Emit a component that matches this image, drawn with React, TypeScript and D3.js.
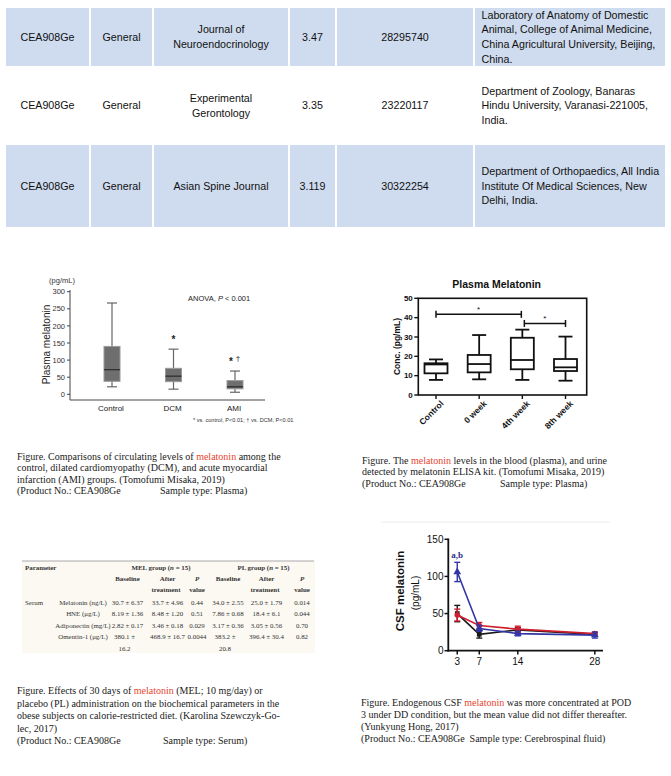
import React, { useEffect } from 'react';
import * as d3 from 'd3';

// ---------- DATA ----------
const productNos = ['CEA908Ge', 'CEA908Ge', 'CEA908Ge'];
const applications = ['General', 'General', 'General'];
const journals = [['Journal of', 'Neuroendocrinology'], ['Experimental', 'Gerontology'], ['Asian Spine Journal']];
const impactFactors = ['3.47', '3.35', '3.119'];
const pmids = ['28295740', '23220117', '30322254'];
const affiliations = [
  ['Laboratory of Anatomy of Domestic', 'Animal, College of Animal Medicine,', 'China Agricultural University, Beijing,', 'China.'],
  ['Department of Zoology, Banaras', 'Hindu University, Varanasi-221005,', 'India.'],
  ['Department of Orthopaedics, All India', 'Institute Of Medical Sciences, New', 'Delhi, India.'],
];

const groupsA = ['Control', 'DCM', 'AMI'];
const minA = [22, 15, 6];
const q1A = [38, 37, 16];
const medA = [72, 53, 22];
const q3A = [140, 76, 40];
const maxA = [267, 132, 68];
const ticksA = [0, 50, 100, 150, 200, 250, 300];

const groupsB = ['Control', '0 week', '4th week', '8th week'];
const minB = [7.8, 8.1, 7.8, 7.4];
const q1B = [11.2, 11.7, 13.3, 12.4];
const medB = [15.8, 16, 18.1, 14.3];
const q3B = [16.4, 20.7, 29.6, 18.6];
const maxB = [18.4, 31, 33.8, 30.2];
const ticksB = [0, 10, 20, 30, 40, 50];
const sigFrom = ['Control', '4th week'];
const sigTo = ['4th week', '8th week'];
const sigLevel = [41.7, 37];

const csfDays = [3, 7, 14, 28];
const csfBlack = [50, 22, 28, 22];
const csfBlackErr = [11, 5, 3, 2];
const csfRed = [48, 34, 29, 23];
const csfRedErr = [8, 4, 4, 2];
const csfBlue = [106, 30, 23, 21];
const csfBlueErr = [13, 4, 3, 4];
const ticksCy = [0, 50, 100, 150];

const paramNames = ['Melatonin (ng/L)', 'HNE (\u03bcg/L)', 'Adiponectin (mg/L)', 'Omentin-1 (\u03bcg/L)'];
const melBaseline = ['30.7 \u00b1 6.37', '8.19 \u00b1 1.36', '2.82 \u00b1 0.17', '380.1 \u00b1 16.2'];
const melAfter = ['33.7 \u00b1 4.96', '8.48 \u00b1 1.20', '3.46 \u00b1 0.18', '468.9 \u00b1 16.7'];
const melP = ['0.44', '0.51', '0.029', '0.0044'];
const plBaseline = ['34.0 \u00b1 2.55', '7.86 \u00b1 0.68', '3.17 \u00b1 0.36', '383.2 \u00b1 20.8'];
const plAfter = ['25.0 \u00b1 1.79', '18.4 \u00b1 6.1', '3.05 \u00b1 0.56', '396.4 \u00b1 30.4'];
const plP = ['0.014', '0.044', '0.70', '0.82'];

// ---------- STYLE ----------
const SANS = 'Liberation Sans, Arial, sans-serif';
const SERIF = 'Liberation Serif, Times New Roman, serif';
const RED = '#e8452f';

type TP = {
  x: number; y: number; children?: React.ReactNode; size?: number; anchor?: string;
  weight?: string | number; family?: string; fill?: string; rotate?: number; italic?: boolean;
};
function T({ x, y, children, size = 10, anchor = 'start', weight = 'normal', family = SANS, fill = '#111', rotate, italic }: TP) {
  const tr = rotate ? `rotate(${rotate},${x},${y})` : undefined;
  return (
    <text x={x} y={y} dy="0.35em" fontSize={size} textAnchor={anchor as any} fontWeight={weight as any}
      fontFamily={family} fill={fill} transform={tr} fontStyle={italic ? 'italic' : undefined}>
      {children}
    </text>
  );
}

function TopTable() {
  const edges = [5, 90, 153, 289, 336, 474, 666];
  const bands = [[8, 66, true], [66, 145, false], [145, 227, true]] as [number, number, boolean][];
  const lh = 14.7;
  const fs = 10.7;
  return (
    <g>
      {bands.map(([y0, y1, f], r) => {
        const cy = (y0 + y1) / 2;
        const cells = [[productNos[r]], [applications[r]], journals[r], [impactFactors[r]], [pmids[r]]];
        return (
          <g key={r}>
            {f && edges.slice(0, -1).map((e, i) => (
              <rect key={i} x={e + 1} y={y0} width={edges[i + 1] - e - 2} height={y1 - y0} fill="#cfdcef" />
            ))}
            {cells.map((lines, c) => lines.map((ln, k) => (
              <T key={c + '-' + k} x={(edges[c] + edges[c + 1]) / 2} y={cy + (k - (lines.length - 1) / 2) * lh}
                size={fs} anchor="middle">{ln}</T>
            )))}
            {affiliations[r].map((ln, k) => (
              <T key={'a' + k} x={481.5} y={cy + (k - (affiliations[r].length - 1) / 2) * lh} size={fs}>{ln}</T>
            ))}
          </g>
        );
      })}
    </g>
  );
}

function BoxA() {
  const y = d3.scaleLinear().domain([0, 300]).range([394.3, 291.7]);
  const x = d3.scalePoint<string>().domain(groupsA).range([112, 235]);
  const w = 16;
  return (
    <g>
      <line x1={70} x2={70} y1={290} y2={400} stroke="#444" />
      <line x1={70} x2={265} y1={400} y2={400} stroke="#444" />
      {ticksA.map(t => (
        <g key={t}>
          <line x1={67} x2={70} y1={y(t)} y2={y(t)} stroke="#444" />
          <T x={65} y={y(t)} size={7.5} anchor="end" fill="#333">{t}</T>
        </g>
      ))}
      {groupsA.map((g, i) => {
        const cx = x(g)!;
        return (
          <g key={g}>
            <line x1={cx} x2={cx} y1={y(maxA[i])} y2={y(q3A[i])} stroke="#666" strokeWidth={1.2} />
            <line x1={cx} x2={cx} y1={y(q1A[i])} y2={y(minA[i])} stroke="#666" strokeWidth={1.2} />
            <line x1={cx - 5} x2={cx + 5} y1={y(maxA[i])} y2={y(maxA[i])} stroke="#666" strokeWidth={1.2} />
            <line x1={cx - 5} x2={cx + 5} y1={y(minA[i])} y2={y(minA[i])} stroke="#666" strokeWidth={1.2} />
            <rect x={cx - w / 2} y={y(q3A[i])} width={w} height={y(q1A[i]) - y(q3A[i])} fill="#6e6e6e" stroke="#9a9a9a" strokeWidth={1} />
            <line x1={cx - w / 2} x2={cx + w / 2} y1={y(medA[i])} y2={y(medA[i])} stroke="#333" strokeWidth={1.4} />
            <T x={cx - 1} y={407.8} size={8} anchor="middle" fill="#222">{g}</T>
          </g>
        );
      })}
      <T x={62} y={280} size={7.5} anchor="middle" fill="#333">(pg/mL)</T>
      <T x={46} y={344.5} size={10} anchor="middle" rotate={-90} fill="#222">Plasma melatonin</T>
      <text x={188} y={298.3} dy="0.35em" fontSize={7.5} fontFamily={SANS} fill="#222">
        ANOVA, <tspan fontStyle="italic">P</tspan> {'< 0.001'}
      </text>
      <T x={x('DCM')!} y={339} size={10} anchor="middle" weight="bold" fill="#222">*</T>
      <T x={231} y={361} size={10} anchor="middle" weight="bold" fill="#222">*</T>
      <T x={238} y={358} size={8} anchor="middle" fill="#222">{'\u2020'}</T>
      <T x={193} y={420.5} size={5.6} fill="#333">{'* vs. control, P<0.01; \u2020 vs. DCM, P<0.01'}</T>
    </g>
  );
}

function BoxB() {
  const y = d3.scaleLinear().domain([0, 50]).range([395, 298.3]);
  const x = d3.scalePoint<string>().domain(groupsB).range([436, 565.5]);
  const w = 23;
  const L = 418.3, R = 586.7;
  return (
    <g>
      <T x={496.7} y={284} size={10.5} anchor="middle" weight="bold">Plasma Melatonin</T>
      <rect x={L} y={y(50)} width={R - L} height={y(0) - y(50)} fill="none" stroke="#111" strokeWidth={1.6} />
      {ticksB.map(t => (
        <g key={t}>
          <line x1={L - 4} x2={L} y1={y(t)} y2={y(t)} stroke="#111" strokeWidth={1.4} />
          <T x={L - 5.5} y={y(t)} size={8} anchor="end" weight="bold">{t}</T>
        </g>
      ))}
      {groupsB.map((g, i) => {
        const cx = x(g)!;
        return (
          <g key={g} stroke="#111" strokeWidth={1.8} fill="none">
            <line x1={cx} x2={cx} y1={y(0)} y2={y(0) + 4} strokeWidth={1.4} />
            <line x1={cx} x2={cx} y1={y(maxB[i])} y2={y(q3B[i])} />
            <line x1={cx} x2={cx} y1={y(q1B[i])} y2={y(minB[i])} />
            <line x1={cx - 7} x2={cx + 7} y1={y(maxB[i])} y2={y(maxB[i])} />
            <line x1={cx - 7} x2={cx + 7} y1={y(minB[i])} y2={y(minB[i])} />
            <rect x={cx - w / 2} y={y(q3B[i])} width={w} height={y(q1B[i]) - y(q3B[i])} fill="#fff" />
            <line x1={cx - w / 2} x2={cx + w / 2} y1={y(medB[i])} y2={y(medB[i])} />
          </g>
        );
      })}
      {groupsB.map(g => {
        const ex = x(g)! + 6, ey = 402;
        return (
          <text key={'l' + g} x={ex} y={ey} dy="0.35em" fontSize={8.5} fontWeight="bold" fontFamily={SANS}
            textAnchor="end" transform={`rotate(-45,${ex},${ey})`} fill="#111">{g}</text>
        );
      })}
      {sigFrom.map((f, i) => {
        const x1 = x(f)! + (i === 1 ? 2 : 0), x2 = x(sigTo[i])! - (i === 0 ? 1 : 0), yy = y(sigLevel[i]);
        return (
          <g key={'s' + i}>
            <line x1={x1} x2={x2} y1={yy} y2={yy} stroke="#111" strokeWidth={1.5} />
            <line x1={x1} x2={x1} y1={yy - 3.5} y2={yy + 3.5} stroke="#111" strokeWidth={1.5} />
            <line x1={x2} x2={x2} y1={yy - 3.5} y2={yy + 3.5} stroke="#111" strokeWidth={1.5} />
            <T x={(x1 + x2) / 2} y={yy - 5} size={8} anchor="middle">*</T>
          </g>
        );
      })}
      <T x={397} y={346.5} size={8.5} anchor="middle" weight="bold" rotate={-90}>Conc. (pg/mL)</T>
    </g>
  );
}

function LineC() {
  const x = d3.scaleLinear().domain([1.5, 29.3]).range([449, 602]);
  const y = d3.scaleLinear().domain([0, 150]).range([650.7, 539.3]);
  const line = d3.line<number>().x((_, i) => x(csfDays[i])).y(d => y(d));
  const series = [
    { v: csfBlack, e: csfBlackErr, c: '#1a1a1a', sym: d3.symbolSquare, s: 22 },
    { v: csfRed, e: csfRedErr, c: '#d0202e', sym: d3.symbolCircle, s: 24 },
    { v: csfBlue, e: csfBlueErr, c: '#3236a6', sym: d3.symbolTriangle, s: 26 },
  ];
  return (
    <g>
      <line x1={381} x2={610} y1={522} y2={522} stroke="#ededed" />
      <line x1={448.3} x2={448.3} y1={538.5} y2={651.5} stroke="#111" strokeWidth={1.8} />
      <line x1={447.5} x2={603} y1={650.7} y2={650.7} stroke="#111" strokeWidth={1.8} />
      {ticksCy.map(t => (
        <g key={t}>
          <line x1={444.5} x2={448.3} y1={y(t)} y2={y(t)} stroke="#111" strokeWidth={1.5} />
          <T x={443.5} y={y(t)} size={10} anchor="end">{t}</T>
        </g>
      ))}
      {csfDays.map(d => (
        <g key={d}>
          <line x1={x(d)} x2={x(d)} y1={650.7} y2={654.5} stroke="#111" strokeWidth={1.5} />
          <T x={x(d)} y={661} size={10} anchor="middle">{d}</T>
        </g>
      ))}
      {series.map((s, k) => (
        <g key={k}>
          <path d={line(s.v) || ''} fill="none" stroke={s.c} strokeWidth={1.6} />
          {s.v.map((v, i) => (
            <g key={i} stroke={s.c} strokeWidth={1.4}>
              <line x1={x(csfDays[i])} x2={x(csfDays[i])} y1={y(v - s.e[i])} y2={y(v + s.e[i])} />
              <line x1={x(csfDays[i]) - 3} x2={x(csfDays[i]) + 3} y1={y(v + s.e[i])} y2={y(v + s.e[i])} />
              <line x1={x(csfDays[i]) - 3} x2={x(csfDays[i]) + 3} y1={y(v - s.e[i])} y2={y(v - s.e[i])} />
              <path d={d3.symbol().type(s.sym).size(s.s)() || ''} transform={`translate(${x(csfDays[i])},${y(v)})`}
                fill={s.c} stroke="none" />
            </g>
          ))}
        </g>
      ))}
      <T x={x(3)} y={555} size={9} anchor="middle" weight="bold" family={SERIF} fill="#2a2f8a">a,b</T>
      <T x={400} y={591} size={11.5} anchor="middle" weight="bold" rotate={-90}>CSF melatonin</T>
      <T x={415} y={593} size={10} anchor="middle" rotate={-90}>(pg/mL)</T>
    </g>
  );
}

function BottomTable() {
  const fs = 6.9;
  const fill = '#333';
  const cols = [127.5, 167.5, 197, 228, 266.5, 302];
  const colData = [melBaseline, melAfter, melP, plBaseline, plAfter, plP];
  const wrapCols = [true, false, false, true, false, false];
  const rowY = [602.2, 613.7, 625.2, 636.7];
  return (
    <g fontFamily={SERIF}>
      <rect x={22} y={561} width={293} height={92} fill="#fbf9f2" />
      <line x1={22} x2={314} y1={561} y2={561} stroke="#a8a8a8" strokeWidth={1} />
      <T x={25} y={568} size={fs} weight="bold" family={SERIF} fill={fill}>Parameter</T>
      <text x={161} y={568} dy="0.35em" fontSize={fs} fontWeight="bold" textAnchor="middle" fill={fill}>
        MEL group (<tspan fontStyle="italic">n</tspan> = 15)
      </text>
      <text x={263.5} y={568} dy="0.35em" fontSize={fs} fontWeight="bold" textAnchor="middle" fill={fill}>
        PL group (<tspan fontStyle="italic">n</tspan> = 15)
      </text>
      {[0, 3].map(o => (
        <g key={o}>
          <T x={cols[o]} y={579} size={fs} weight="bold" anchor="middle" family={SERIF} fill={fill}>Baseline</T>
          <T x={cols[o + 1]} y={579} size={fs} weight="bold" anchor="middle" family={SERIF} fill={fill}>After</T>
          <T x={cols[o + 1] - 1.5} y={590} size={fs} weight="bold" anchor="middle" family={SERIF} fill={fill}>treatment</T>
          <T x={cols[o + 2]} y={579} size={fs} weight="bold" anchor="middle" family={SERIF} fill={fill} italic>P</T>
          <T x={cols[o + 2]} y={590} size={fs} weight="bold" anchor="middle" family={SERIF} fill={fill}>value</T>
        </g>
      ))}
      <T x={25} y={rowY[0]} size={fs} family={SERIF} fill={fill}>Serum</T>
      {paramNames.map((p, r) => (
        <T key={p} x={83} y={rowY[r]} size={fs} anchor="middle" family={SERIF} fill={fill}>{p}</T>
      ))}
      {colData.map((arr, c) => arr.map((v, r) => {
        if (wrapCols[c] && v.length > 11) {
          const parts = v.split(' \u00b1 ');
          return (
            <g key={c + '-' + r}>
              <T x={cols[c] - 3} y={rowY[r]} size={fs} anchor="middle" family={SERIF} fill={fill}>{parts[0] + ' \u00b1'}</T>
              <T x={cols[c] - 3} y={rowY[r] + 11.5} size={fs} anchor="middle" family={SERIF} fill={fill}>{parts[1]}</T>
            </g>
          );
        }
        return <T key={c + '-' + r} x={cols[c]} y={rowY[r]} size={fs} anchor="middle" family={SERIF} fill={fill}>{v}</T>;
      }))}
    </g>
  );
}

type Seg = string | { red: string };
function Caption({ x, y0, lh, lines }: { x: number; y0: number; lh: number; lines: { segs: Seg[]; dx?: number }[] }) {
  return (
    <g>
      {lines.map((ln, i) => (
        <text key={i} x={x + (ln.dx || 0)} y={y0 + i * lh} dy="0.35em" fontSize={10} fontFamily={SERIF} fill="#1a1a1a">
          {ln.segs.map((s, k) => typeof s === 'string'
            ? <tspan key={k}>{s}</tspan>
            : <tspan key={k} fill={RED}>{s.red}</tspan>)}
        </text>
      ))}
    </g>
  );
}

export default function App() {
  useEffect(() => { document.body.style.margin = '0'; }, []);
  return (
    <div style={{ position: 'absolute', left: 0, top: 0 }}>
      <svg width={671} height={776} viewBox="0 0 671 776" style={{ display: 'block', background: '#fff' }}>
        <rect x={0} y={0} width={671} height={776} fill="#fff" />
        <TopTable />
        <BoxA />
        <BoxB />
        <BottomTable />
        <LineC />
        <Caption x={17} y0={456} lh={11.6} lines={[
          { segs: ['Figure. Comparisons of circulating levels of ', { red: 'melatonin' }, ' among the'] },
          { segs: ['control, dilated cardiomyopathy (DCM), and acute myocardial'] },
          { segs: ['infarction (AMI) groups. (Tomofumi Misaka, 2019)'] },
          { segs: ['(Product No.: CEA908Ge'] },
        ]} />
        <Caption x={160} y0={456 + 3 * 11.6} lh={11.6} lines={[{ segs: ['Sample type: Plasma)'] }]} />
        <Caption x={362} y0={460} lh={11.7} lines={[
          { segs: ['Figure. The ', { red: 'melatonin' }, ' levels in the blood (plasma), and urine'] },
          { segs: ['detected by melatonin ELISA kit. (Tomofumi Misaka, 2019)'] },
          { segs: ['(Product No.: CEA908Ge'] },
        ]} />
        <Caption x={500} y0={460 + 2 * 11.7} lh={11.7} lines={[{ segs: ['Sample type: Plasma)'] }]} />
        <Caption x={17} y0={690.5} lh={12.5} lines={[
          { segs: ['Figure. Effects of 30 days of ', { red: 'melatonin' }, ' (MEL; 10 mg/day) or'] },
          { segs: ['placebo (PL) administration on the biochemical parameters in the'] },
          { segs: ['obese subjects on calorie-restricted diet. (Karolina Szewczyk-Go-'] },
          { segs: ['lec, 2017)'] },
          { segs: ['(Product No.: CEA908Ge'] },
        ]} />
        <Caption x={163} y0={690.5 + 4 * 12.5} lh={12.5} lines={[{ segs: ['Sample type: Serum)'] }]} />
        <Caption x={361} y0={702} lh={12.2} lines={[
          { segs: ['Figure. Endogenous CSF ', { red: 'melatonin' }, ' was more concentrated at POD'] },
          { segs: ['3 under DD condition, but the mean value did not differ thereafter.'] },
          { segs: ['(Yunkyung Hong, 2017)'] },
          { segs: ['(Product No.: CEA908Ge\u00a0\u00a0Sample type: Cerebrospinal fluid)'] },
        ]} />
      </svg>
    </div>
  );
}
